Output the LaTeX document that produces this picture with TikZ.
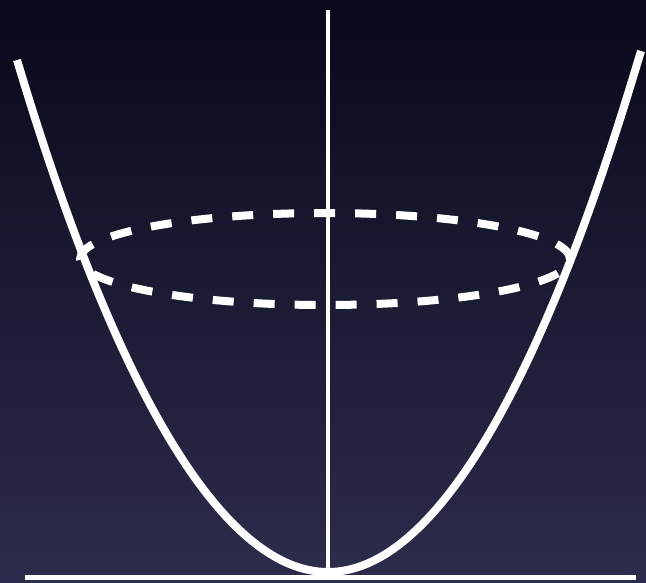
\documentclass[tikz,border=0pt]{standalone}
\begin{document}
\begin{tikzpicture}[x=1pt,y=-1pt,
  curve/.style={draw=white,line width=8pt},
  ring/.style={draw=white,line width=8pt,dash pattern=on 21pt off 20pt},
  axisline/.style={draw=white,line width=4pt},
  baseline/.style={draw=white,line width=5pt}]
\shade[top color={rgb,255:red,9;green,9;blue,27},middle color={rgb,255:red,22;green,22;blue,46},bottom color={rgb,255:red,44;green,44;blue,76}] (0,0) rectangle (646,582);
\useasboundingbox (0,0) rectangle (646,582);
\coordinate (L) at (17,60);
\coordinate (V) at (328,572);
\coordinate (R) at (641,51);
\coordinate (T) at (328,10);
\coordinate (B) at (328,572);
\coordinate (G1) at (25,577);
\coordinate (G2) at (636,577);
\coordinate (C) at (325,259);
\draw[axisline] (T) -- (B);
\draw[baseline] (G1) -- (G2);
\draw[curve] (L) parabola bend (V) (R);
\draw[ring] (C) ellipse [x radius=245pt, y radius=46pt];
\end{tikzpicture}
\end{document}
